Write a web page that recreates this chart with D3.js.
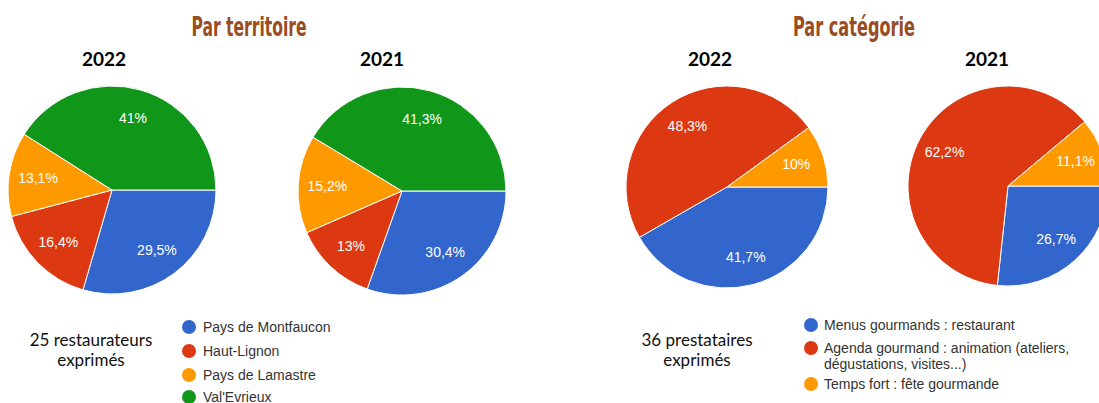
<!DOCTYPE html>
<html><head><meta charset="utf-8">
<script src="https://cdn.jsdelivr.net/npm/d3@7"></script>
<style>html,body{margin:0;padding:0;background:#fff;}svg{display:block;}</style>
</head><body>
<svg id="chart" width="1099" height="403"></svg>
<script>
const territoires = ["Pays de Montfaucon", "Haut-Lignon", "Pays de Lamastre", "Val'Evrieux"];
const territoire2022 = [29.5, 16.4, 13.1, 41];
const territoire2021 = [30.4, 13, 15.2, 41.3];
const categories = ["Menus gourmands : restaurant", "Agenda gourmand : animation (ateliers,|dégustations, visites...)", "Temps fort : fête gourmande"];
const categorie2022 = [41.7, 48.3, 10];
const categorie2021 = [26.7, 62.2, 11.1];
const sliceColors = ["#3366cc", "#dc3912", "#ff9900", "#109618"];
const sectionTitles = ["Par territoire", "Par catégorie"];
const yearLabels = ["2022", "2021"];
const countLabels = [["25 restaurateurs", "exprimés"], ["36 prestataires", "exprimés"]];

const svg = d3.select("#chart");
const pie = d3.pie().sort(null).value(d => d).startAngle(Math.PI / 2).endAngle(Math.PI / 2 + 2 * Math.PI);
const fmt = v => (Number.isInteger(v) ? String(v) : String(v).replace(".", ",")) + "%";

function drawPie(values, cx, cy, r) {
  const g = svg.append("g").attr("transform", `translate(${cx},${cy})`);
  const arc = d3.arc().innerRadius(0).outerRadius(r);
  const labelArc = d3.arc().innerRadius(r * 0.72).outerRadius(r * 0.72);
  const arcs = pie(values);
  g.selectAll("path").data(arcs).join("path")
    .attr("d", arc).attr("fill", (d, i) => sliceColors[i])
    .attr("stroke", "#fff").attr("stroke-width", 1);
  g.selectAll("text").data(arcs).join("text")
    .attr("transform", d => `translate(${labelArc.centroid(d)})`)
    .attr("text-anchor", "middle").attr("dy", "0.35em")
    .attr("fill", "#fff").attr("font-family", "Liberation Sans, Arial, sans-serif")
    .attr("font-size", 14).text(d => fmt(d.data));
}

drawPie(territoire2022, 112, 190, 104);
drawPie(territoire2021, 402, 191, 104);
drawPie(categorie2022, 727, 187, 101);
drawPie(categorie2021, 1008, 186, 100);

// section titles
[[249, sectionTitles[0], 115], [854, sectionTitles[1], 122]].forEach(([x, t, w]) => {
  svg.append("text").attr("x", x).attr("y", 36).attr("text-anchor", "middle")
    .attr("font-family", "DejaVu Sans Condensed, DejaVu Sans, sans-serif").attr("font-weight", "bold")
    .attr("font-stretch", "condensed")
    .attr("font-size", 26).attr("fill", "#9a4c22")
    .attr("textLength", w).attr("lengthAdjust", "spacingAndGlyphs").text(t);
});

// year labels
[[104, 0], [382, 1], [710, 0], [987, 1]].forEach(([x, i]) => {
  svg.append("text").attr("x", x).attr("y", 66).attr("text-anchor", "middle")
    .attr("font-family", "Lato, sans-serif").attr("font-weight", "bold")
    .attr("font-size", 19).attr("fill", "#000").text(yearLabels[i]);
});

// counts
[[91, 0], [697, 1]].forEach(([x, i]) => {
  countLabels[i].forEach((line, j) => {
    svg.append("text").attr("x", x).attr("y", 346 + j * 20).attr("text-anchor", "middle")
      .attr("font-family", "Lato, sans-serif").attr("font-size", 17).attr("fill", "#111").text(line);
  });
});

// legends
function legend(items, x, tx, ys) {
  items.forEach((label, i) => {
    svg.append("circle").attr("cx", x).attr("cy", ys[i]).attr("r", 7).attr("fill", sliceColors[i]);
    label.split("|").forEach((line, j) => {
      svg.append("text").attr("x", tx).attr("y", ys[i] + j * 16).attr("dy", "0.35em")
        .attr("font-family", "Liberation Sans, Arial, sans-serif").attr("font-size", 14)
        .attr("fill", "#333").text(line);
    });
  });
}
legend(territoires, 189, 203, [327, 351, 375, 397]);
legend(categories, 811, 824, [325, 348, 384]);
</script>
</body></html>
